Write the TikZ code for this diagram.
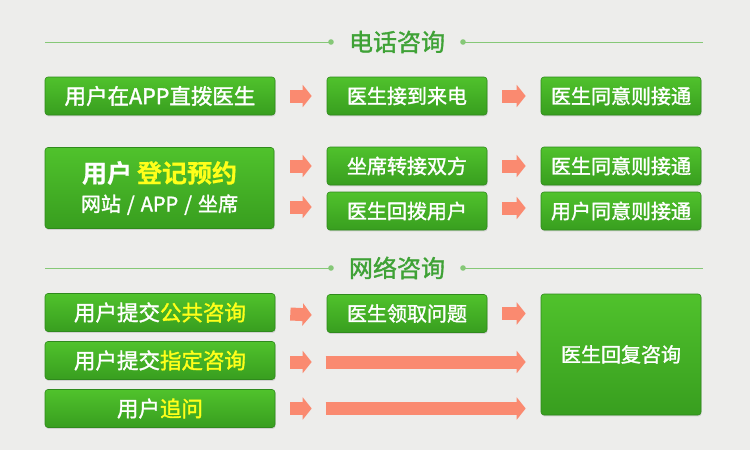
\documentclass[tikz,border=0pt]{standalone}
\usepackage{fontspec}
\setmainfont{Noto Sans CJK SC}[RawFeature={embolden=1.5}]
\newfontfamily\cjkb{Noto Sans CJK SC Bold}[RawFeature={embolden=0.5}]
\usetikzlibrary{arrows.meta,shadows,calc}
\definecolor{bgc}{HTML}{EDEDEB}
\definecolor{gtop}{HTML}{50C22C}
\definecolor{gbot}{HTML}{389E1F}
\definecolor{gedge}{HTML}{2F8A1C}
\definecolor{hdr}{HTML}{3FA236}
\definecolor{hline}{HTML}{86C877}
\definecolor{arr}{HTML}{FA8A70}
\definecolor{hl}{HTML}{FFFF1A}
\tikzset{
  gbox/.style={draw=gedge, line width=0.6pt, rounded corners=3pt,
    top color=gtop, bottom color=gbot, text=white,
    drop shadow={opacity=0.25, shadow xshift=0.6pt, shadow yshift=-1.4pt},
    inner sep=0pt, font=\fontsize{20}{22}\selectfont},
  lbox/.style={gbox, minimum width=230pt, minimum height=38pt, font=\fontsize{21.5}{24}\selectfont},
  mbox/.style={gbox, minimum width=160pt, minimum height=38pt},
  barrow/.style={draw=arr, line width=13pt, -{Triangle[width=22pt, length=9pt]}},
  htext/.style={text=hdr, font=\fontsize{24}{26}\selectfont},
  hrule/.style={draw=hline, line width=1pt},
  hdot/.style={fill=hline},
}
\begin{document}
\begin{tikzpicture}[x=1pt,y=-1pt]
\fill[bgc] (0,0) rectangle (750,450);
\useasboundingbox (0,0) rectangle (750,450);

% headers
\node[htext] (h1) at (397,42) {电话咨询};
\coordinate (h1l) at (45,42); \coordinate (h1ld) at (331,42);
\coordinate (h1rd) at (463,42); \coordinate (h1r) at (703,42);
\draw[hrule] (h1l) -- (h1ld); \draw[hrule] (h1rd) -- (h1r);
\fill[hdot] (h1ld) circle (2.8); \fill[hdot] (h1rd) circle (2.8);

\node[htext] (h2) at (397,268) {网络咨询};
\coordinate (h2l) at (45,268); \coordinate (h2ld) at (331,268);
\coordinate (h2rd) at (463,268); \coordinate (h2r) at (703,268);
\draw[hrule] (h2l) -- (h2ld); \draw[hrule] (h2rd) -- (h2r);
\fill[hdot] (h2ld) circle (2.8); \fill[hdot] (h2rd) circle (2.8);

% row 1
\node[lbox] (a1) at (160,96) {用户在APP直拨医生};
\node[mbox] (a2) at (407,96) {医生接到来电};
\node[mbox] (a3) at (621,96) {医生同意则接通};
\draw[barrow] ($(a1.east)+(15,0)$) -- ($(a2.west)+(-15,0)$);
\draw[barrow] ($(a2.east)+(15,0)$) -- ($(a3.west)+(-15,0)$);

% row 2
\node[gbox, minimum width=229pt, minimum height=81pt, align=center] (b1) at (159.5,188)
  {{\cjkb\fontsize{25}{27}\selectfont 用户\hspace{5pt}\textcolor{hl}{登记预约}}\\[7pt]
   {\fontsize{20}{22}\selectfont 网站\hspace{6pt}/\hspace{6pt}APP\hspace{6pt}/\hspace{6pt}坐席}};
\node[mbox] (b2) at (407,166) {坐席转接双方};
\node[mbox] (b3) at (407,211) {医生回拨用户};
\node[mbox] (b4) at (621,166) {医生同意则接通};
\node[mbox] (b5) at (621,211) {用户同意则接通};
\draw[barrow] ($(b1.east|-b2.west)+(16,0)$) -- ($(b2.west)+(-15,0)$);
\draw[barrow] ($(b1.east|-b3.west)+(16,-4)$) -- ($(b3.west)+(-15,-4)$);
\draw[barrow] ($(b2.east)+(15,0)$) -- ($(b4.west)+(-15,0)$);
\draw[barrow] ($(b3.east)+(15,-3)$) -- ($(b5.west)+(-15,-3)$);

% row 3
\node[lbox] (c1) at (160,312.5) {用户提交\textcolor{hl}{公共咨询}};
\node[lbox] (c2) at (160,360.5) {用户提交\textcolor{hl}{指定咨询}};
\node[lbox] (c3) at (160,408.5) {用户\textcolor{hl}{追问}};
\node[mbox] (c4) at (407,313.5) {医生领取问题};
\node[gbox, minimum width=160pt, minimum height=121pt] (c5) at (621,354.5) {医生回复咨询};
\coordinate (k2) at (c4.west|-c2.east);
\coordinate (k3) at (c4.west|-c3.east);
\draw[barrow] ($(c1.east)+(15,1.5)$) -- ($(c4.west)+(-15,1.5)$);
\draw[barrow] ($(c2.east)+(15,1.5)$) -- ($(k2)+(-15,1.5)$);
\draw[barrow] ($(c3.east)+(15,0)$) -- ($(k3)+(-15,0)$);
\draw[barrow] ($(c4.east)+(15,0)$) -- ($(c5.west|-c4.east)+(-15,0)$);
\draw[barrow] ($(k2)+(-1,1.5)$) -- ($(c5.west|-c2.east)+(-15,1.5)$);
\draw[barrow] ($(k3)+(-1,0)$) -- ($(c5.west|-c3.east)+(-15,0)$);
\end{tikzpicture}
\end{document}
